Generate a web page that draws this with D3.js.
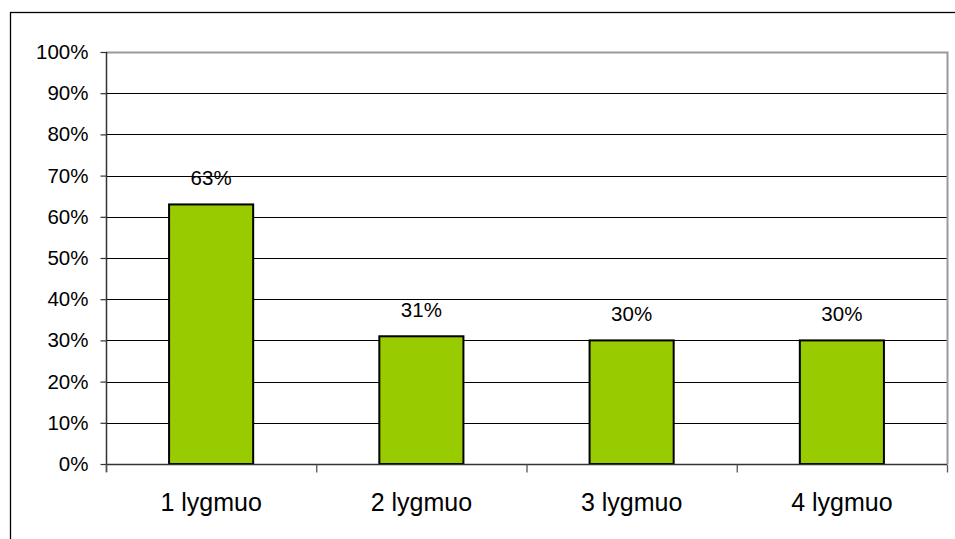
<!DOCTYPE html>
<html><head><meta charset="utf-8">
<script src="https://cdn.jsdelivr.net/npm/d3@7"></script>
<style>html,body{margin:0;padding:0;background:#fff;}svg{display:block;}</style>
</head><body><svg id="c" width="955" height="539"></svg>
<script>
const categories = ["1 lygmuo", "2 lygmuo", "3 lygmuo", "4 lygmuo"];
const values = [63, 31, 30, 30];
const yTicks = [0,10,20,30,40,50,60,70,80,90,100];

const svg = d3.select("#c");
const font = "Arial, 'Liberation Sans', sans-serif";
// outer frame
svg.append("rect").attr("x",10.5).attr("y",12.5).attr("width",960).attr("height",540)
  .attr("fill","none").attr("stroke","#000").attr("stroke-width",1.3);

const L=106, R=947, T=52, B=464;
const x = d3.scaleBand().domain(categories).range([L,R]);
const y = d3.scaleLinear().domain([0,100]).range([B,T]);

// grid
svg.append("g").selectAll("line").data(yTicks.filter(d=>d>0&&d<100)).join("line")
  .attr("x1",L).attr("x2",R).attr("y1",d=>Math.round(y(d))+0.5).attr("y2",d=>Math.round(y(d))+0.5)
  .attr("stroke","#000").attr("stroke-width",1);
// plot border top/right gray
svg.append("path").attr("d",`M${L},${T+0.5}H${R+0.5}V${B}`).attr("fill","none")
  .attr("stroke","#999").attr("stroke-width",2);

// bars
const bw = x.bandwidth()*0.4;
svg.append("g").selectAll("rect").data(values).join("rect")
  .attr("x",(d,i)=>x(categories[i])+x.bandwidth()/2-bw/2)
  .attr("y",d=>y(d)).attr("width",bw).attr("height",d=>B-y(d))
  .attr("fill","#99CC00").attr("stroke","#000").attr("stroke-width",2);

// value labels
svg.append("g").selectAll("text").data(values).join("text")
  .attr("x",(d,i)=>x(categories[i])+x.bandwidth()/2).attr("y",d=>y(d)-19)
  .attr("text-anchor","middle").attr("font-family",font).attr("font-size",20.5).attr("fill","#000")
  .text(d=>d+"%");

// y axis
const ya = d3.axisLeft(y).tickValues(yTicks).tickFormat(d=>d+"%").tickSize(6).tickPadding(12);
const gy = svg.append("g").attr("transform",`translate(${L+0.5},0)`).call(ya);
gy.select(".domain").attr("stroke","#333").attr("stroke-width",1.5).attr("d",`M0,${T}V${B+8}`);
gy.selectAll(".tick line").attr("stroke","#333").attr("stroke-width",1.2);
gy.selectAll(".tick text").attr("font-family",font).attr("font-size",20.5).attr("fill","#000");

// x axis
const gx = svg.append("g").attr("transform",`translate(0,${B+0.5})`);
gx.append("line").attr("x1",L).attr("x2",R).attr("stroke","#333").attr("stroke-width",1.5);
const bounds = categories.map(c=>x(c)).concat([R]);
gx.selectAll("line.t").data(bounds).join("line").attr("class","t")
  .attr("x1",d=>d+0.5).attr("x2",d=>d+0.5).attr("y1",0).attr("y2",8)
  .attr("stroke","#555").attr("stroke-width",1.3);
gx.selectAll("text").data(categories).join("text")
  .attr("x",d=>x(d)+x.bandwidth()/2).attr("y",46)
  .attr("text-anchor","middle").attr("font-family",font).attr("font-size",25).attr("fill","#000")
  .text(d=>d);
</script></body></html>
